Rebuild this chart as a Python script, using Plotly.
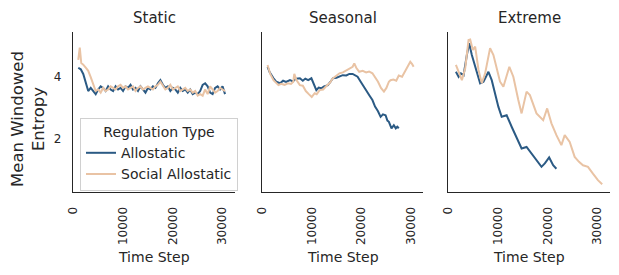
import plotly.graph_objects as go

# ---------------- data ----------------
panels = ["Static", "Seasonal", "Extreme"]
series_names = ["Allostatic", "Social Allostatic"]

static_allo_x = [1000, 1500, 2000, 2500, 3000, 3500, 4000, 4500, 5000, 5500, 6000, 6500, 7000, 7500,
                 8000, 8500, 9000, 9500, 10000, 10500, 11000, 11500, 12000, 12500, 13000, 13500, 14000,
                 14500, 15000, 15500, 16000, 16500, 17000, 17500, 18000, 18500, 19000, 19500, 20000,
                 20500, 21000, 21500, 22000, 22500, 23000, 23500, 24000, 24500, 25000, 25500, 26000,
                 26500, 27000, 27500, 28000, 28500, 29000, 29500, 30000, 30500]
static_allo_y = [4.30, 4.25, 4.10, 3.80, 3.55, 3.65, 3.55, 3.45, 3.60, 3.70, 3.65, 3.55, 3.70, 3.60,
                 3.55, 3.70, 3.60, 3.65, 3.55, 3.70, 3.65, 3.75, 3.60, 3.65, 3.55, 3.70, 3.60,
                 3.50, 3.65, 3.60, 3.70, 3.65, 3.80, 3.90, 3.75, 3.65, 3.70, 3.55, 3.65,
                 3.60, 3.50, 3.65, 3.55, 3.60, 3.50, 3.60, 3.45, 3.50, 3.45, 3.55, 3.75,
                 3.80, 3.70, 3.50, 3.45, 3.65, 3.70, 3.60, 3.70, 3.45]

static_soc_x = [1000, 1300, 1600, 2000, 2500, 3000, 3500, 4000, 4500, 5000, 5500, 6000, 6500, 7000,
                7500, 8000, 8500, 9000, 9500, 10000, 10500, 11000, 11500, 12000, 12500, 13000, 13500,
                14000, 14500, 15000, 15500, 16000, 16500, 17000, 17500, 18000, 18500, 19000, 19500,
                20000, 20500, 21000, 21500, 22000, 22500, 23000, 23500, 24000, 24500, 25000, 25500,
                26000, 26500, 27000, 27500, 28000, 28500, 29000, 29500, 30000, 30500]
static_soc_y = [4.55, 4.95, 4.45, 4.40, 4.30, 4.20, 4.00, 3.75, 3.55, 3.60, 3.50, 3.65, 3.55, 3.60,
                3.70, 3.65, 3.60, 3.70, 3.75, 3.65, 3.70, 3.60, 3.65, 3.70, 3.55, 3.65, 3.70,
                3.60, 3.65, 3.70, 3.65, 3.60, 3.70, 3.75, 3.85, 3.70, 3.60, 3.65, 3.75,
                3.60, 3.65, 3.70, 3.55, 3.60, 3.65, 3.55, 3.60, 3.50, 3.55, 3.40, 3.45,
                3.40, 3.60, 3.45, 3.70, 3.60, 3.50, 3.55, 3.65, 3.60, 3.55]

seasonal_allo_x = [1070, 1500, 2270, 2800, 3600, 4200, 4800, 5600, 6200, 6800, 7600, 8200, 8700, 9270,
                   9930, 10400, 10930, 11400, 11930, 12500, 13270, 13800, 14270, 15000, 15600, 16270,
                   17000, 17600, 18270, 18800, 19270, 19900, 20600, 21200, 21700, 22270, 22800, 23400,
                   23930, 24400, 24930, 25300, 25600, 26130, 26600, 27000, 27300, 27600]
seasonal_allo_y = [4.33, 4.15, 3.96, 3.85, 3.80, 3.88, 3.84, 3.90, 3.86, 3.95, 3.96, 3.88, 3.95, 3.90,
                   3.96, 3.80, 3.58, 3.66, 3.64, 3.70, 3.74, 3.85, 3.96, 3.98, 4.02, 4.06,
                   4.05, 4.10, 4.10, 4.06, 4.01, 3.85, 3.69, 3.55, 3.40, 3.26, 3.05, 2.90,
                   2.72, 2.80, 2.77, 2.60, 2.56, 2.35, 2.45, 2.35, 2.40, 2.35]

seasonal_soc_x = [1070, 1600, 2270, 2800, 3270, 3800, 4500, 5200, 5800, 6270, 6470, 6900, 7600, 8200,
                  8800, 9400, 10000, 10600, 11000, 11600, 12300, 13000, 13600, 14200, 15000, 15600,
                  16300, 17000, 17600, 18270, 18600, 19000, 19600, 20300, 21000, 21600, 22270, 22800,
                  23400, 24000, 24600, 25100, 25600, 25930, 26500, 27100, 27600, 28270, 28800, 29300,
                  29700, 29930, 30300, 30600]
seasonal_soc_y = [4.39, 4.10, 3.90, 3.80, 3.74, 3.78, 3.75, 3.80, 3.78, 3.85, 4.10, 3.90, 3.74, 3.72,
                  3.55, 3.45, 3.36, 3.48, 3.45, 3.58, 3.60, 3.72, 3.80, 3.95, 4.05, 4.12,
                  4.15, 4.22, 4.28, 4.33, 4.44, 4.30, 4.17, 4.20, 4.15, 4.18, 4.12, 4.00,
                  3.85, 3.65, 3.53, 3.65, 3.85, 3.90, 3.92, 3.88, 4.05, 4.01, 4.15, 4.30,
                  4.40, 4.49, 4.42, 4.33]

extreme_allo_x = [1530, 2070, 2530, 3070, 3730, 4200, 4730, 5400, 5870, 6400, 7070, 8070, 8730, 9400,
                  10070, 10730, 11730, 12730, 13730, 14730, 15730, 16730, 17730, 18730, 19400, 20270,
                  21070, 21730]
extreme_allo_y = [4.17, 4.01, 4.12, 4.06, 4.71, 5.09, 4.71, 4.33, 4.12, 3.80, 3.85, 4.17, 3.90, 3.47,
                  3.04, 2.72, 2.77, 2.40, 2.07, 1.70, 1.75, 1.54, 1.32, 1.11, 1.22, 1.41,
                  1.16, 1.05]

extreme_soc_x = [1530, 2070, 2730, 3400, 4070, 4400, 4930, 5400, 6070, 6730, 7400, 8400, 9070, 10400,
                 11070, 12270, 13070, 14070, 14730, 15730, 16400, 17730, 19070, 19870, 20730, 21730,
                 22730, 23400, 24400, 25400, 26270, 27070, 28070, 29070, 30070, 30930]
extreme_soc_y = [4.39, 4.17, 3.90, 4.28, 5.19, 5.21, 4.87, 4.98, 4.23, 3.80, 4.12, 4.93, 4.71, 3.85,
                 3.69, 4.33, 4.01, 3.26, 2.83, 3.53, 3.42, 2.83, 2.61, 2.99, 2.51, 2.13,
                 1.81, 2.13, 1.91, 1.43, 1.27, 1.16, 1.11, 0.89, 0.68, 0.55]

x_tick_vals = [0, 10000, 20000, 30000]
x_tick_text = ["0", "10000", "20000", "30000"]
y_tick_vals = [2, 4]
y_tick_text = ["2", "4"]

data = {
    "Static": [(static_allo_x, static_allo_y), (static_soc_x, static_soc_y)],
    "Seasonal": [(seasonal_allo_x, seasonal_allo_y), (seasonal_soc_x, seasonal_soc_y)],
    "Extreme": [(extreme_allo_x, extreme_allo_y), (extreme_soc_x, extreme_soc_y)],
}

# ---------------- style ----------------
W, H = 619, 275
colors = ["#2b5a84", "#e9c3a4"]
FONT = "DejaVu Sans"
TXT = "#262626"

px_x = [(73, 235), (262, 423), (448, 610)]
y_top, y_bot = 32, 192

fig = go.Figure()

for i, p in enumerate(panels):
    ax = "" if i == 0 else str(i + 1)
    for j, (xs, ys) in enumerate(data[p]):
        fig.add_trace(go.Scatter(
            x=xs, y=ys, mode="lines", name=series_names[j],
            line=dict(color=colors[j], width=2),
            xaxis="x" + ax, yaxis="y" + ax,
            showlegend=(i == 0),
        ))
    x0, x1 = px_x[i]
    fig.layout["xaxis" + ax] = dict(
        domain=[x0 / W, x1 / W], range=[-60, 32500], anchor="y" + ax, automargin=False,
        showline=True, linecolor=TXT, linewidth=1.2, showgrid=False, zeroline=False,
        tickvals=x_tick_vals, ticktext=x_tick_text, tickangle=-90,
        ticks="", ticklabelstandoff=9,
        tickfont=dict(family=FONT, size=12, color=TXT),
    )
    fig.layout["yaxis" + ax] = dict(
        domain=[1 - y_bot / H, 1 - y_top / H], range=[0.3, 5.45], anchor="x" + ax, automargin=False,
        showline=True, linecolor=TXT, linewidth=1.2, showgrid=False, zeroline=False,
        tickvals=y_tick_vals, ticktext=y_tick_text, showticklabels=(i == 0),
        ticks="", ticklabelstandoff=8,
        tickfont=dict(family=FONT, size=12, color=TXT),
    )
    cx = (x0 + x1) / 2 / W
    fig.add_annotation(text=p, x=cx, y=1 - 18 / H, xref="paper", yref="paper",
                       xanchor="center", yanchor="middle",
                       showarrow=False, font=dict(family=FONT, size=15, color=TXT))
    fig.add_annotation(text="Time Step", x=cx, y=1 - 257 / H, xref="paper", yref="paper",
                       xanchor="center", yanchor="middle",
                       showarrow=False, font=dict(family=FONT, size=14, color=TXT))

fig.add_annotation(text="Mean Windowed<br>Entropy", x=28 / W, y=1 - 119 / H,
                   xref="paper", yref="paper", showarrow=False, textangle=-90,
                   xanchor="center", yanchor="middle",
                   font=dict(family=FONT, size=16.5, color=TXT))

fig.update_layout(
    width=W, height=H, margin=dict(l=0, r=0, t=0, b=0, autoexpand=False),
    paper_bgcolor="white", plot_bgcolor="white",
    font=dict(family=FONT, color=TXT),
    legend=dict(
        x=80 / W, y=1 - 118 / H, xanchor="left", yanchor="top",
        bgcolor="rgba(255,255,255,0.85)", bordercolor="#d0d0d0", borderwidth=1,
        font=dict(family=FONT, size=14, color=TXT),
        title=dict(text="Regulation Type", side="top center",
                   font=dict(family=FONT, size=14, color=TXT)),
        tracegroupgap=0, itemwidth=30,
    ),
)

fig.write_html("out.html", config={"displayModeBar": False},
               post_script="document.body.style.margin='0px';")
